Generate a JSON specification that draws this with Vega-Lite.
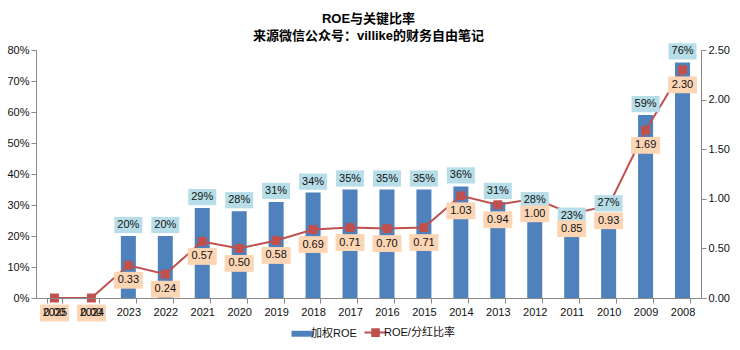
{
  "$schema": "https://vega.github.io/schema/vega-lite/v6.json",
  "autosize": "none",
  "width": 665,
  "height": 248,
  "padding": {"left": 36, "top": 50, "right": 39, "bottom": 52},
  "background": "white",
  "title": {
    "text": ["ROE与关键比率", "来源微信公众号：villike的财务自由笔记"],
    "font": "Liberation Sans, Noto Sans CJK SC",
    "fontSize": 13,
    "fontWeight": "bold",
    "lineHeight": 17,
    "offset": 0,
    "color": "#000"
  },
  "config": {
    "font": "Liberation Sans, Noto Sans CJK SC",
    "view": {"stroke": null},
    "axis": {
      "grid": false,
      "domainColor": "#888",
      "tickColor": "#888",
      "tickSize": 5,
      "labelFontSize": 11,
      "labelColor": "#111",
      "labelOverlap": false,
      "labelFont": "Liberation Sans, Noto Sans CJK SC"
    }
  },
  "data": {
    "values": [
      {"year": "2025", "roe": 0, "ratio": 0},
      {"year": "2024", "roe": 0, "ratio": 0},
      {"year": "2023", "roe": 0.20, "ratio": 0.33},
      {"year": "2022", "roe": 0.20, "ratio": 0.24},
      {"year": "2021", "roe": 0.29, "ratio": 0.57},
      {"year": "2020", "roe": 0.28, "ratio": 0.50},
      {"year": "2019", "roe": 0.31, "ratio": 0.58},
      {"year": "2018", "roe": 0.34, "ratio": 0.69},
      {"year": "2017", "roe": 0.35, "ratio": 0.71},
      {"year": "2016", "roe": 0.35, "ratio": 0.70},
      {"year": "2015", "roe": 0.35, "ratio": 0.71},
      {"year": "2014", "roe": 0.36, "ratio": 1.03},
      {"year": "2013", "roe": 0.31, "ratio": 0.94},
      {"year": "2012", "roe": 0.28, "ratio": 1.00},
      {"year": "2011", "roe": 0.23, "ratio": 0.85},
      {"year": "2010", "roe": 0.27, "ratio": 0.93},
      {"year": "2009", "roe": 0.59, "ratio": 1.69},
      {"year": "2008", "roe": 0.76, "ratio": 2.30}
    ]
  },
  "encoding": {
    "x": {
      "field": "year",
      "type": "ordinal",
      "sort": null,
      "title": null,
      "scale": {"paddingInner": 0.6, "paddingOuter": 0.3},
      "axis": {"labelAngle": 0, "tickBand": "extent", "labelPadding": 3, "zindex": 1}
    }
  },
  "layer": [
    {
      "mark": {"type": "bar", "size": 15},
      "encoding": {
        "y": {
          "field": "roe",
          "type": "quantitative",
          "title": null,
          "scale": {"domain": [0, 0.8]},
          "axis": {"orient": "left", "format": ".0%", "values": [0, 0.1, 0.2, 0.3, 0.4, 0.5, 0.6, 0.7, 0.8], "labelPadding": 2}
        },
        "color": {
          "datum": "加权ROE",
          "type": "nominal",
          "scale": {"domain": ["加权ROE", "ROE/分红比率"], "range": ["#4F81BD", "#C0504D"]},
          "legend": {
            "orient": "none",
            "legendX": 261,
            "legendY": 277,
            "title": null,
            "direction": "horizontal",
            "labelFontSize": 11,
            "labelColor": "#111",
            "labelOffset": 3,
            "columnPadding": 3,
            "symbolSize": 484,
            "encode": {
              "symbols": {
                "update": {
                  "shape": {"signal": "datum.value === '加权ROE' ? 'M-1,-0.27H1V0.27H-1Z' : 'M-1,0H1M-0.3,-0.3H0.3V0.3H-0.3Z'"},
                  "fill": {"signal": "datum.value === '加权ROE' ? '#4F81BD' : '#C0504D'"},
                  "stroke": {"signal": "datum.value === '加权ROE' ? '#4F81BD' : '#C0504D'"},
                  "strokeWidth": {"signal": "datum.value === '加权ROE' ? 0 : 2"},
                  "fillOpacity": {"value": 1},
                  "opacity": {"value": 1}
                }
              }
            }
          }
        }
      }
    },
    {
      "mark": {"type": "line", "strokeWidth": 2, "point": {"shape": "square", "size": 80, "filled": true, "opacity": 1}},
      "encoding": {
        "y": {
          "field": "ratio",
          "type": "quantitative",
          "title": null,
          "scale": {"domain": [0, 2.5]},
          "axis": {"orient": "right", "format": ".2f", "values": [0, 0.5, 1, 1.5, 2, 2.5], "labelPadding": 2}
        },
        "color": {"datum": "ROE/分红比率", "type": "nominal"}
      }
    },
    {
      "transform": [{"filter": "datum.roe > 0"}],
      "mark": {"type": "point", "shape": "M-1,-0.58H1V0.58H-1Z", "size": 784, "filled": true, "color": "#B7DEE8", "opacity": 1, "yOffset": -11},
      "encoding": {
        "y": {"field": "roe", "type": "quantitative", "scale": {"domain": [0, 0.8]}, "axis": null}
      }
    },
    {
      "transform": [{"filter": "datum.roe > 0"}],
      "mark": {"type": "text", "fontSize": 11, "color": "#111", "baseline": "middle", "dy": -11},
      "encoding": {
        "y": {"field": "roe", "type": "quantitative", "scale": {"domain": [0, 0.8]}, "axis": null},
        "text": {"field": "roe", "type": "quantitative", "format": ".0%"}
      }
    },
    {
      "mark": {"type": "point", "shape": "M-1,-0.58H1V0.58H-1Z", "size": 841, "filled": true, "color": "#FCD5B5", "opacity": 1, "yOffset": 15},
      "encoding": {
        "y": {"field": "ratio", "type": "quantitative", "scale": {"domain": [0, 2.5]}, "axis": null}
      }
    },
    {
      "mark": {"type": "text", "fontSize": 11, "color": "#111", "baseline": "middle", "dy": 15},
      "encoding": {
        "y": {"field": "ratio", "type": "quantitative", "scale": {"domain": [0, 2.5]}, "axis": null},
        "text": {"field": "ratio", "type": "quantitative", "format": ".2f"}
      }
    }
  ],
  "resolve": {"scale": {"y": "independent"}}
}
